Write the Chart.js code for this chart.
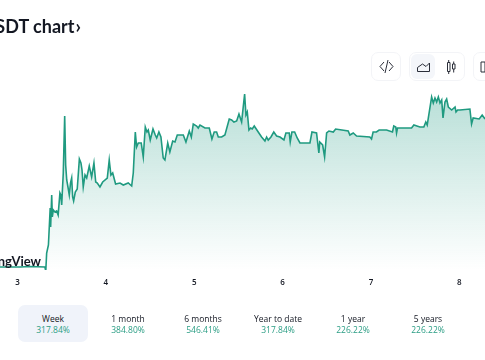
<!DOCTYPE html>
<html><head><meta charset="utf-8">
<script src="https://cdn.jsdelivr.net/npm/chart.js@4"></script>
<style>
html,body{margin:0;padding:0;background:#fff;overflow:hidden;width:485px;height:360px}
#stage{position:relative;width:485px;height:360px;overflow:hidden;font-family:"Open Sans",sans-serif;color:#131722}
canvas{position:absolute;left:0;top:0}
.title{position:absolute;left:-120px;top:14px;font:700 18px/24px Lato,sans-serif;white-space:nowrap;width:201px;text-align:right}
.brand{position:absolute;right:444px;top:252px;font:700 13px/18px Lato,sans-serif;white-space:nowrap;width:120px;text-align:right}
.btn{position:absolute;top:52px;height:29px;border:1px solid #f3f4f7;border-radius:7px;box-sizing:border-box;background:#fff}
.active{position:absolute;left:411px;top:54px;width:24px;height:25px;background:#f4f6fa;border-radius:6px}
svg{position:absolute;overflow:visible}
.tab{position:absolute;top:305px;width:70px;height:37px;border-radius:7px;text-align:center;font-size:8.5px;line-height:11px;box-sizing:border-box;padding-top:8px}
.tab b{display:block;font-weight:400;color:#2a9d84}
.tab.on{background:#f0f3fa}
</style></head><body>
<div id="stage">
<canvas id="c" width="485" height="360"></canvas>
<div class="title">USDT chart<span style="font-size:19px;margin-left:1px">›</span></div>
<div class="brand">TradingView</div>
<div class="btn" style="left:371px;width:30px"></div>
<div class="btn" style="left:409px;width:56px"></div>
<div class="btn" style="left:473px;width:30px"></div>
<div class="active"></div>
<svg style="left:0;top:0" width="485" height="90" fill="none" stroke="#2a2e39" stroke-width="1">
<path d="M384 62l-4 4.500 4 4.500M389 62l4 4.500-4 4.500M388 60l-3 13"/>
<path d="M417.500 71.500v-4l5-3.500 3.500 2.500 3.500-3.500v8.500z"/>
<path d="M447.500 62.500h2.500v9h-2.500zM452.500 64h2.500v5h-2.500zM448.700 60v2.500M448.700 71.500v2.500M453.700 61.500v2.500M453.700 69v3.500"/>
<path d="M481 62h4v10h-4z"/>
</svg>
<div id="tabs"></div>
</div>
<script>
const days=[2.802,3.03,3.14,3.31,3.32,3.33,3.35,3.37,3.375,3.387,3.394,3.405,3.424,3.443,3.46,3.48,3.49,3.5,3.518,3.534,3.545,3.557,3.571,3.586,3.6,3.613,3.624,3.635,3.654,3.676,3.7,3.718,3.73,3.744,3.764,3.783,3.812,3.839,3.865,3.885,3.903,3.933,3.964,4.016,4.038,4.057,4.077,4.11,4.16,4.197,4.253,4.292,4.31,4.333,4.348,4.367,4.4,4.423,4.446,4.465,4.48,4.502,4.533,4.559,4.575,4.6,4.623,4.649,4.668,4.7,4.724,4.756,4.782,4.808,4.876,4.906,4.944,4.967,4.989,5.027,5.045,5.065,5.121,5.17,5.2,5.226,5.253,5.272,5.31,5.347,5.396,5.423,5.449,5.48,5.506,5.536,5.57,5.585,5.6,5.619,5.638,5.656,5.679,5.724,5.762,5.8,5.819,5.837,5.868,5.9,5.932,5.97,6.015,6.037,6.075,6.086,6.105,6.136,6.165,6.196,6.309,6.332,6.384,6.41,6.42,6.453,6.475,6.498,6.524,6.573,6.6,6.742,6.761,6.799,6.837,6.987,7.006,7.024,7.062,7.092,7.176,7.243,7.258,7.28,7.289,7.3,7.459,7.485,7.553,7.598,7.62,7.636,7.686,7.705,7.724,7.743,7.762,7.781,7.8,7.815,7.837,7.856,7.875,7.913,7.951,7.962,7.98,8.006,8.119,8.138,8.156,8.224,8.258,8.29];
const values=[3,3,3.500,3,-1,17,25,62,43,75,53,60,58,59,55,77,75,65,97,154,105,90,83,75,87,92,73,69,78,81,111,107,100,83,95,92,104,93,107,88,87,83,88,92,110,95,97,86,87,85,87,84,97,138,123,127,127,113,143,138,140,130,141,135,132,138,133,112,110,127,118,129,128,135,135,128,139,133,146,144,142,145,142,142,131,138,138,133,133,135,151,150,148,149,156,148,176,155,158,140,142,141,144,138,133,129,133,130,133,138,134,133,130,137,137,128,138,138,132,127,127,138,137,117,128,125,113,137,139,138,141,139,135,137,134,133,131,138,138,140,140,138,144,143,137,142,142,145,143,143,148,145,173,167,172,168,173,167,170,152,168,171,163,160,163,158,160,160,161,146,152,151,155,151];
const tabNames=["Week","1 month","6 months","Year to date","1 year","5 years"];
const tabValues=["317.84%","384.80%","546.41%","317.84%","226.22%","226.22%"];

const tabsEl=document.getElementById('tabs');
tabNames.forEach((n,i)=>{
  const d=document.createElement('div');
  d.className='tab'+(i===0?' on':'');
  d.style.left=(18+i*75)+'px';
  d.innerHTML=n+'<b>'+tabValues[i]+'</b>';
  tabsEl.appendChild(d);
});

new Chart(document.getElementById('c'),{
  type:'line',
  data:{datasets:[{
    data:days.map((d,i)=>({x:d,y:values[i]})),
    borderColor:'#1f9a80',borderWidth:1.6,pointRadius:0,tension:0,fill:'origin',
    backgroundColor(ctx){
      const a=ctx.chart.chartArea;
      if(!a)return 'transparent';
      const g=ctx.chart.ctx.createLinearGradient(0,a.top+24,0,a.bottom);
      g.addColorStop(0,'rgba(22,150,125,0.30)');
      g.addColorStop(1,'rgba(22,150,125,0)');
      return g;
    }
  }]},
  options:{
    responsive:false,animation:false,
    layout:{padding:{top:70,left:0,right:0,bottom:0}},
    plugins:{legend:{display:false},tooltip:{enabled:false}},
    scales:{
      x:{type:'linear',min:2.802,max:8.29,
        grid:{display:false,drawTicks:false},border:{display:false},
        afterFit(s){s.height=90;},
        ticks:{stepSize:1,includeBounds:false,autoSkip:false,maxRotation:0,padding:8,
          color:'#131722',font:{family:'Open Sans',size:8,weight:'600'},
          callback:v=>String(v)}},
      y:{display:false,min:0,max:200}
    }
  }
});
</script>
</body></html>
